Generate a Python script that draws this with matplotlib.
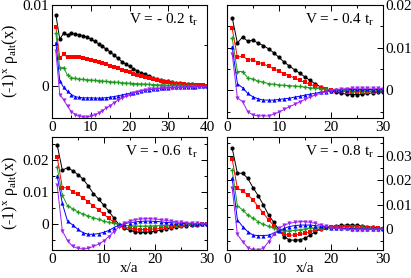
import numpy as np
import matplotlib
matplotlib.use("Agg")
import matplotlib.pyplot as plt
from matplotlib.ticker import MultipleLocator

plt.rcParams['font.family'] = ['Liberation Serif', 'DejaVu Serif']
plt.rcParams['mathtext.fontset'] = 'custom'
plt.rcParams['mathtext.rm'] = 'Liberation Serif'
plt.rcParams['mathtext.it'] = 'Liberation Serif:italic'

# ---------------- data (values in units of 1e-3) ----------------
x40 = list(range(1, 41))
x30 = list(range(1, 31))

v02_black = [8.77, 5.76, 6.5, 6.3, 6.5, 6.4, 6.3, 6.2, 6.0, 5.8, 5.5, 5.2, 4.9, 4.5, 4.2, 3.8, 3.4, 3.0, 2.7, 2.4,
             2.1, 1.85, 1.6, 1.4, 1.2, 1.0, 0.86, 0.74, 0.62, 0.53, 0.45, 0.37, 0.33, 0.25, 0.2, 0.16, 0.12, 0.08, 0.04, 0.0]
v02_red = [7.3, 3.4, 3.9, 3.5, 3.6, 3.55, 3.5, 3.4, 3.3, 3.2, 3.1, 2.95, 2.8, 2.7, 2.5, 2.35, 2.2, 2.0, 1.85, 1.7,
           1.5, 1.36, 1.2, 1.07, 0.9, 0.8, 0.7, 0.6, 0.5, 0.4, 0.33, 0.27, 0.22, 0.18, 0.14, 0.1, 0.08, 0.05, 0.03, 0.0]
v02_green = [6.5, 2.2, 2.25, 1.3, 1.0, 0.9, 0.82, 0.78, 0.74, 0.7, 0.66, 0.62, 0.58, 0.53, 0.5, 0.45, 0.41, 0.37, 0.33, 0.29,
             0.27, 0.25, 0.22, 0.2, 0.17, 0.14, 0.12, 0.1, 0.08, 0.06, 0.05, 0.04, 0.03, 0.02, 0.01, 0.0, 0.0, 0.0, 0.0, 0.0]
v02_blue = [5.35, 0.6, -0.2, -0.7, -1.1, -1.35, -1.45, -1.5, -1.5, -1.5, -1.52, -1.54, -1.52, -1.48, -1.42, -1.34, -1.25, -1.15, -1.05, -0.95,
            -0.85, -0.75, -0.65, -0.57, -0.5, -0.43, -0.37, -0.32, -0.28, -0.25, -0.22, -0.2, -0.18, -0.16, -0.14, -0.12, -0.1, -0.08, -0.06, -0.05]
v02_purple = [4.24, -1.1, -1.73, -2.55, -3.2, -3.6, -3.8, -3.87, -3.87, -3.8, -3.6, -3.4, -3.1, -2.75, -2.5, -2.1, -1.8, -1.56, -1.3, -1.1,
              -0.9, -0.74, -0.6, -0.53, -0.45, -0.41, -0.37, -0.33, -0.31, -0.29, -0.27, -0.25, -0.23, -0.21, -0.19, -0.17, -0.15, -0.13, -0.11, -0.1]

v04_black = [17.0, 11.1, 12.5, 11.5, 11.8, 11.0, 10.5, 9.7, 8.8, 7.7, 6.6, 5.7, 4.8, 4.0, 3.1, 2.3, 1.5, 0.8, 0.15, -0.15,
             -0.45, -0.75, -0.9, -1.0, -1.0, -0.9, -0.75, -0.6, -0.45, -0.3]
v04_red = [14.5, 7.7, 8.1, 7.1, 7.2, 6.5, 6.2, 5.6, 5.0, 4.5, 3.9, 3.4, 2.9, 2.3, 1.85, 1.4, 0.9, 0.6, 0.3, 0.15,
           -0.1, -0.25, -0.35, -0.4, -0.4, -0.4, -0.35, -0.3, -0.25, -0.2]
v04_green = [12.2, 4.4, 4.4, 2.9, 2.6, 2.15, 1.9, 1.55, 1.4, 1.25, 1.15, 1.1, 1.0, 0.9, 0.75, 0.6, 0.45, 0.35, 0.25, 0.15,
             0.05, 0.0, -0.05, -0.1, -0.1, -0.1, -0.1, -0.1, -0.1, -0.05]
v04_blue = [10.2, 1.55, 0.6, -0.75, -1.55, -2.0, -2.3, -2.3, -2.3, -2.15, -2.0, -1.85, -1.6, -1.4, -1.15, -0.9, -0.7, -0.45, -0.3, -0.15,
            0.0, 0.1, 0.15, 0.2, 0.2, 0.2, 0.2, 0.15, 0.15, 0.1]
v04_purple = [8.5, -1.75, -2.7, -5.0, -5.8, -6.0, -6.0, -6.0, -5.6, -5.1, -4.5, -3.85, -3.3, -2.7, -2.15, -1.6, -1.1, -0.7, -0.4, -0.1,
              0.15, 0.3, 0.4, 0.45, 0.5, 0.5, 0.5, 0.5, 0.45, 0.4]

v06_black = [24.7, 16.9, 17.6, 16.7, 15.5, 14.1, 12.0, 9.6, 7.9, 6.0, 4.1, 1.9, -0.2, -1.2, -1.8, -2.3, -2.5, -2.5, -2.3, -2.1,
             -1.8, -1.45, -1.15, -0.8, -0.6, -0.4, -0.2, -0.1, 0.0, 0.2]
v06_red = [21.0, 11.4, 11.4, 10.2, 9.3, 8.3, 7.0, 5.8, 4.5, 3.1, 1.9, 0.6, -0.2, -0.8, -1.25, -1.45, -1.65, -1.65, -1.55, -1.45,
           -1.25, -1.0, -0.8, -0.6, -0.4, -0.3, -0.2, -0.1, 0.0, 0.0]
v06_green = [17.7, 9.1, 5.8, 4.8, 3.9, 3.2, 2.6, 2.1, 1.55, 1.0, 0.6, 0.3, 0.0, -0.3, -0.45, -0.5, -0.55, -0.55, -0.5, -0.45,
             -0.4, -0.35, -0.3, -0.25, -0.2, -0.15, -0.1, -0.05, 0.0, 0.0]
v06_blue = [15.1, 6.5, 1.0, -0.2, -1.55, -2.6, -3.1, -3.1, -2.9, -2.5, -1.9, -1.0, -0.2, 0.2, 0.5, 0.7, 0.9, 1.0, 1.0, 0.9,
            0.8, 0.6, 0.5, 0.4, 0.3, 0.2, 0.15, 0.1, 0.05, 0.0]
v06_purple = [12.1, -2.0, -5.1, -6.9, -7.5, -7.7, -7.5, -6.9, -6.2, -5.2, -3.8, -2.3, -0.7, 0.3, 1.0, 1.45, 1.65, 1.75, 1.75, 1.65,
              1.45, 1.25, 1.0, 0.8, 0.6, 0.5, 0.4, 0.3, 0.2, 0.1]

v08_black = [33.0, 22.8, 22.8, 20.7, 16.9, 13.6, 9.8, 5.7, 2.7, -0.4, -3.1, -4.5, -4.6, -4.4, -3.8, -2.5, -1.1, 0.0, 0.6, 1.0,
             1.3, 1.5, 1.6, 1.6, 1.5, 1.3, 1.0, 0.7, 0.4, 0.2]
v08_red = [28.5, 16.6, 15.6, 13.9, 11.9, 9.1, 6.4, 3.7, 1.4, -0.7, -2.2, -2.5, -2.5, -2.2, -1.8, -1.1, -0.4, 0.1, 0.5, 0.8,
           0.9, 1.0, 1.0, 0.9, 0.8, 0.6, 0.4, 0.3, 0.2, 0.1]
v08_green = [24.1, 9.5, 7.8, 5.7, 4.4, 3.0, 1.9, 1.1, 0.3, -0.4, -0.8, -0.8, -0.55, -0.3, 0.0, 0.3, 0.4, 0.5, 0.55, 0.55,
             0.5, 0.45, 0.4, 0.3, 0.25, 0.2, 0.15, 0.1, 0.05, 0.0]
v08_blue = [20.7, 3.7, 1.0, -1.1, -2.5, -2.7, -2.7, -2.5, -1.8, -0.8, 0.3, 1.0, 1.35, 1.6, 1.6, 1.6, 1.35, 1.1, 0.8, 0.5,
            0.4, 0.3, 0.2, 0.1, 0.0, -0.05, -0.1, -0.1, -0.1, -0.1]
v08_purple = [16.6, -2.2, -5.2, -7.6, -8.6, -8.6, -7.9, -5.2, -2.2, 0.3, 1.6, 2.3, 2.7, 3.0, 3.0, 2.7, 2.3, 1.6, 1.1, 0.5,
              0.3, 0.0, -0.15, -0.3, -0.35, -0.35, -0.3, -0.3, -0.25, -0.2]

panel_labels = ['V = - 0.2 t$_{\\mathrm{r}}$', 'V = - 0.4 t$_{\\mathrm{r}}$',
                'V = - 0.6  t$_{\\mathrm{r}}$', 'V = - 0.8 t$_{\\mathrm{r}}$']
ylims = [(-0.004, 0.01), (-0.0065, 0.02), (-0.008, 0.0272), (-0.0086, 0.0376)]
xlims = [(0, 40), (0, 30), (0, 30), (0, 30)]

colors = ['#000000', '#ff0000', '#1f9a1f', '#0000ff', '#a020f0']
markers = ['o', 's', 'P', '^', 'v']

panels = [
    (x40, [v02_black, v02_red, v02_green, v02_blue, v02_purple]),
    (x30, [v04_black, v04_red, v04_green, v04_blue, v04_purple]),
    (x30, [v06_black, v06_red, v06_green, v06_blue, v06_purple]),
    (x30, [v08_black, v08_red, v08_green, v08_blue, v08_purple]),
]

W, H = 411, 278
fig = plt.figure(figsize=(W / 100, H / 100), dpi=100)

boxes = [(52, 5, 207, 118), (227, 5, 383, 118), (52, 137, 207, 250), (227, 137, 383, 250)]
ylabel = '(-1)$^{\\mathrm{x}}$ ρ$_{\\mathrm{alt}}$(x)'

for i, ((x0, y0, x1, y1), (xs, series)) in enumerate(zip(boxes, panels)):
    ax = fig.add_axes([x0 / W, 1 - y1 / H, (x1 - x0) / W, (y1 - y0) / H])
    for ys, c, m in zip(series, colors, markers):
        ax.plot(xs, np.array(ys) * 1e-3, color=c, marker=m, markersize=3.0,
                linewidth=0.7, markeredgewidth=0)
    ax.set_xlim(*xlims[i])
    ax.set_ylim(*ylims[i])
    ax.xaxis.set_major_locator(MultipleLocator(10))
    ax.xaxis.set_minor_locator(MultipleLocator(5))
    ax.yaxis.set_major_locator(MultipleLocator(0.01))
    ax.yaxis.set_minor_locator(MultipleLocator(0.005))
    ax.yaxis.set_major_formatter(matplotlib.ticker.FuncFormatter(
        lambda v, p: '0' if abs(v) < 1e-9 else ('%.2f' % v)))
    ax.tick_params(which='both', direction='in', top=True, right=True, labelsize=11, width=0.7)
    ax.tick_params(which='major', length=4, pad=2)
    ax.tick_params(which='minor', length=2)
    for s in ax.spines.values():
        s.set_linewidth(0.8)
    if i in (1, 3):
        ax.tick_params(labelleft=False, labelright=True)
    else:
        ax.set_ylabel(ylabel, fontsize=11.5, labelpad=2)
    if i >= 2:
        ax.set_xlabel('x/a', fontsize=11, labelpad=-2.5)
    ax.text(0.94, 0.87, panel_labels[i], transform=ax.transAxes, ha='right', va='center', fontsize=11)

fig.savefig('out.png', dpi=100)
